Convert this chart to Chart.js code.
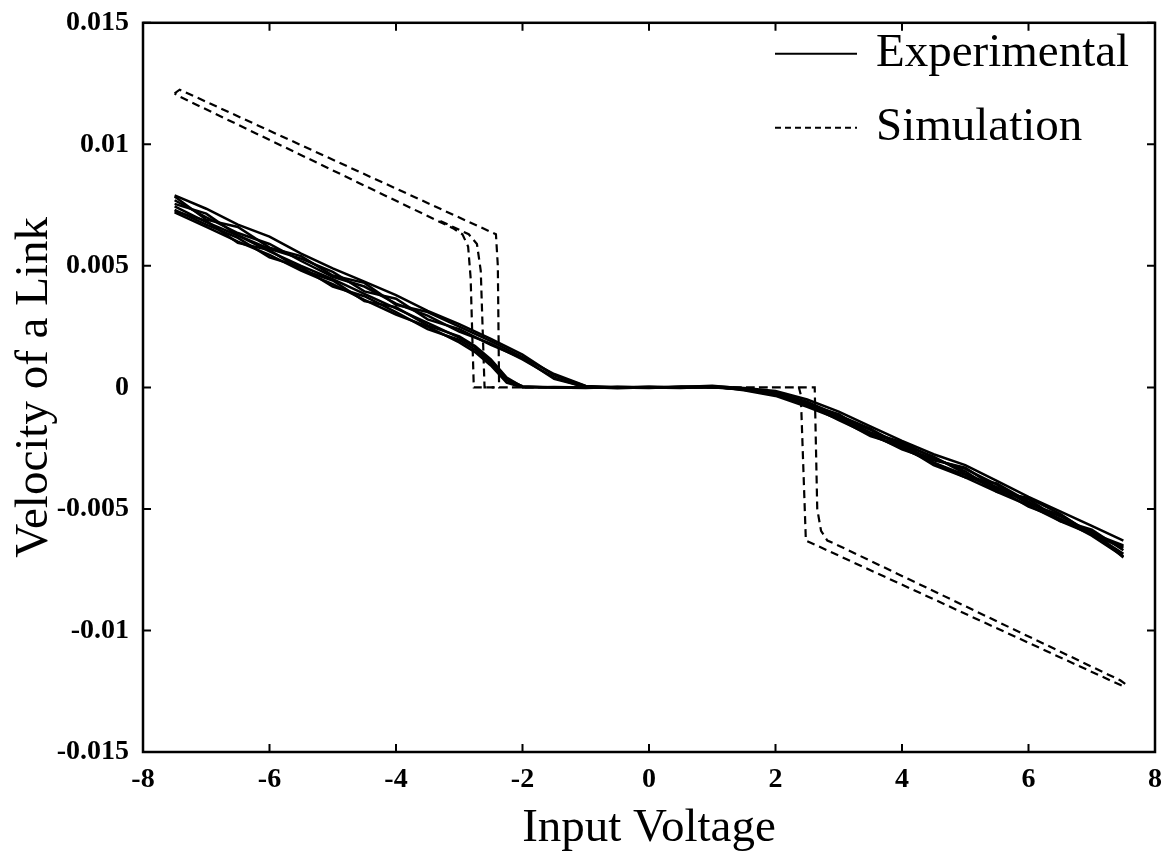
<!DOCTYPE html>
<html>
<head>
<meta charset="utf-8">
<script src="https://cdn.jsdelivr.net/npm/chart.js@4.4.1/dist/chart.umd.min.js"></script>
<style>
  html, body { margin: 0; padding: 0; background: #fff; }
  #chart { display: block; }
</style>
</head>
<body>
<canvas id="chart" width="1169" height="861"></canvas>
<script>
// ---- data (velocity values in units of 1e-3) ----
const xTicks = [-8, -6, -4, -2, 0, 2, 4, 6, 8];
const yTicks = [0.015, 0.01, 0.005, 0, -0.005, -0.01, -0.015];
const legendLabels = ["Experimental", "Simulation"];

// experimental runs, upper branch (reaches zero near -1.2 V)
const expXU = [-7.5, -7, -6.5, -6, -5.5, -5, -4.5, -4, -3.5, -3, -2.5, -2, -1.5, -1, -0.5, 0, 0.5, 1, 1.5, 2, 2.5, 3, 3.5, 4, 4.5, 5, 5.5, 6, 6.5, 7, 7.5];
const expU1 = [7.9, 7.35, 6.7, 6.2, 5.5, 4.9, 4.35, 3.8, 3.15, 2.6, 2.0, 1.35, 0.5, 0.05, 0.0, 0.02, 0.0, 0.05, -0.02, -0.15, -0.5, -1.0, -1.6, -2.2, -2.75, -3.2, -3.85, -4.5, -5.1, -5.7, -6.3];
const expU2 = [7.7, 7.0, 6.35, 5.9, 5.2, 4.55, 4.15, 3.45, 2.95, 2.3, 1.8, 1.15, 0.4, 0.0, 0.03, 0.0, 0.04, 0.0, -0.06, -0.25, -0.7, -1.35, -1.95, -2.5, -3.1, -3.7, -4.3, -4.85, -5.5, -6.05, -6.55];
const expU3 = [7.55, 7.15, 6.25, 5.7, 5.3, 4.75, 3.95, 3.65, 2.8, 2.4, 1.75, 1.2, 0.35, 0.02, -0.03, 0.01, 0.02, 0.07, -0.04, -0.2, -0.6, -1.15, -1.7, -2.45, -2.95, -3.35, -4.0, -4.8, -5.25, -6.0, -6.85];
const expU4 = [7.85, 6.9, 6.6, 5.75, 5.4, 4.6, 4.3, 3.4, 3.1, 2.5, 1.9, 1.25, 0.55, 0.06, 0.0, -0.02, 0.03, 0.03, -0.08, -0.3, -0.75, -1.25, -1.9, -2.3, -3.1, -3.6, -4.2, -4.6, -5.45, -5.85, -6.7];

// experimental runs, lower branch (reaches zero near -2.1 V)
const expXL = [-7.5, -7, -6.5, -6, -5.5, -5, -4.5, -4, -3.5, -3, -2.75, -2.5, -2.25, -2, -1.5, -1, -0.5, 0, 0.5, 1, 1.5, 2, 2.5, 3, 3.5, 4, 4.5, 5, 5.5, 6, 6.5, 7, 7.5];
const expL1 = [7.45, 6.8, 6.25, 5.6, 5.0, 4.45, 3.85, 3.25, 2.65, 2.05, 1.65, 1.05, 0.35, 0.03, 0.0, 0.02, 0.0, 0.0, -0.02, 0.03, -0.1, -0.3, -0.65, -1.2, -1.75, -2.35, -2.85, -3.55, -4.1, -4.75, -5.3, -6.0, -6.5];
const expL2 = [7.2, 6.6, 6.0, 5.45, 4.8, 4.25, 3.6, 3.0, 2.5, 1.85, 1.45, 0.9, 0.2, 0.0, 0.02, 0.0, 0.01, 0.02, 0.0, 0.0, -0.06, -0.25, -0.7, -1.1, -1.9, -2.55, -3.0, -3.3, -4.15, -4.9, -5.4, -6.1, -6.95];
const expL3 = [7.3, 6.7, 6.15, 5.35, 4.95, 4.15, 3.75, 3.1, 2.4, 1.95, 1.55, 1.0, 0.3, 0.05, 0.0, -0.02, 0.02, 0.0, 0.01, 0.05, -0.12, -0.35, -0.8, -1.3, -2.0, -2.4, -3.2, -3.7, -3.95, -4.7, -5.5, -5.9, -7.0];
const expL4 = [7.25, 6.85, 5.95, 5.65, 4.85, 4.4, 3.55, 3.3, 2.55, 2.1, 1.7, 1.15, 0.4, 0.02, 0.01, 0.0, -0.01, 0.03, 0.0, 0.02, -0.08, -0.28, -0.6, -1.25, -1.85, -2.25, -2.9, -3.45, -4.3, -4.55, -5.2, -6.05, -6.6];

// simulation: closed hysteresis loop
const simLoopX = [-7.5, -7.42, -2.42, -2.39, -2.37, 2.37, 2.40, 2.48, 7.5, 7.53, 7.45, 2.95, 2.82, 2.72, 2.66, 2.62, -2.77, -2.82, -2.86, -2.95, -3.1, -7.45, -7.5];
const simLoopY = [12.1, 12.25, 6.3, 5.0, 0.0, 0.0, -0.3, -6.3, -12.3, -12.2, -12.05, -6.45, -6.3, -5.9, -5.0, 0.0, 0.0, 4.5, 5.8, 6.3, 6.55, 12.0, 12.1];
// simulation: extra drop branch on the left
const simBranchX = [-3.3, -2.85, -2.72, -2.66, -2.6, -2.45];
const simBranchY = [6.85, 6.3, 5.9, 4.8, 0.0, 0.0];

const pts = (xs, ys) => xs.map((x, i) => ({ x: x, y: ys[i] / 1000 }));

const serif = '"Liberation Serif", "Times New Roman", serif';

const expStyle = { borderColor: "#000", borderWidth: 2.5, pointRadius: 0, showLine: true, fill: false, tension: 0 };
const simStyle = { borderColor: "#000", borderWidth: 2.2, borderDash: [8, 5], pointRadius: 0, showLine: true, fill: false, tension: 0 };

const datasets = [
  { label: "Experimental", data: pts(expXU, expU1), ...expStyle },
  { label: "Experimental", data: pts(expXU, expU2), ...expStyle },
  { label: "Experimental", data: pts(expXU, expU3), ...expStyle },
  { label: "Experimental", data: pts(expXU, expU4), ...expStyle },
  { label: "Experimental", data: pts(expXL, expL1), ...expStyle },
  { label: "Experimental", data: pts(expXL, expL2), ...expStyle },
  { label: "Experimental", data: pts(expXL, expL3), ...expStyle },
  { label: "Experimental", data: pts(expXL, expL4), ...expStyle },
  { label: "Simulation", data: pts(simLoopX, simLoopY), ...simStyle },
  { label: "Simulation", data: pts(simBranchX, simBranchY), ...simStyle },
];

// box around the plot with inward ticks on all four sides
const frame = {
  id: "frame",
  afterDatasetsDraw(chart) {
    const { ctx, chartArea: a, scales: { x, y } } = chart;
    ctx.save();
    ctx.strokeStyle = "#000";
    ctx.lineWidth = 2.5;
    ctx.setLineDash([]);
    ctx.strokeRect(a.left, a.top, a.right - a.left, a.bottom - a.top);
    ctx.lineWidth = 2;
    ctx.beginPath();
    x.ticks.forEach((t) => {
      const px = x.getPixelForValue(t.value);
      ctx.moveTo(px, a.bottom); ctx.lineTo(px, a.bottom - 8);
      ctx.moveTo(px, a.top); ctx.lineTo(px, a.top + 8);
    });
    y.ticks.forEach((t) => {
      const py = y.getPixelForValue(t.value);
      ctx.moveTo(a.left, py); ctx.lineTo(a.left + 8, py);
      ctx.moveTo(a.right, py); ctx.lineTo(a.right - 8, py);
    });
    ctx.stroke();
    ctx.restore();
  },
};

// legend in the upper right corner of the plot
const cornerLegend = {
  id: "cornerLegend",
  afterDraw(chart) {
    const { ctx, chartArea: a } = chart;
    const x0 = a.right - 380, x1 = a.right - 298, tx = a.right - 279;
    const rows = [a.top + 31, a.top + 105];
    ctx.save();
    ctx.strokeStyle = "#000";
    ctx.fillStyle = "#000";
    ctx.lineWidth = 2;
    ctx.font = "47px " + serif;
    ctx.textBaseline = "middle";
    legendLabels.forEach((label, i) => {
      ctx.setLineDash(i === 0 ? [] : [6, 4]);
      ctx.beginPath();
      ctx.moveTo(x0, rows[i]);
      ctx.lineTo(x1, rows[i]);
      ctx.stroke();
      ctx.fillText(label, tx, rows[i]);
    });
    ctx.restore();
  },
};

new Chart(document.getElementById("chart"), {
  type: "scatter",
  data: { datasets },
  options: {
    responsive: false,
    animation: false,
    devicePixelRatio: 1,
    layout: { padding: { top: 22, right: 14, left: 0, bottom: 0 } },
    plugins: { legend: { display: false }, tooltip: { enabled: false } },
    scales: {
      x: {
        type: "linear",
        min: -8,
        max: 8,
        afterFit: (s) => { s.height = 109; },
        afterBuildTicks: (s) => { s.ticks = xTicks.map((v) => ({ value: v })); },
        grid: { display: false },
        border: { display: false },
        ticks: { color: "#000", padding: 3, font: { family: serif, size: 28, weight: "bold" } },
        title: { display: true, text: "Input Voltage", color: "#000", padding: { top: 0, bottom: 4 }, font: { family: serif, size: 47 } },
      },
      y: {
        type: "linear",
        min: -0.015,
        max: 0.015,
        afterFit: (s) => { s.width = 143; },
        afterBuildTicks: (s) => { s.ticks = yTicks.map((v) => ({ value: v })); },
        grid: { display: false },
        border: { display: false },
        ticks: {
          color: "#000",
          padding: 6,
          font: { family: serif, size: 28, weight: "bold" },
          callback: (v) => String(Number(v.toFixed(3))),
        },
        title: { display: true, text: "Velocity of a Link", color: "#000", padding: { top: 6, bottom: 0 }, font: { family: serif, size: 47 } },
      },
    },
  },
  plugins: [frame, cornerLegend],
});
</script>
</body>
</html>
